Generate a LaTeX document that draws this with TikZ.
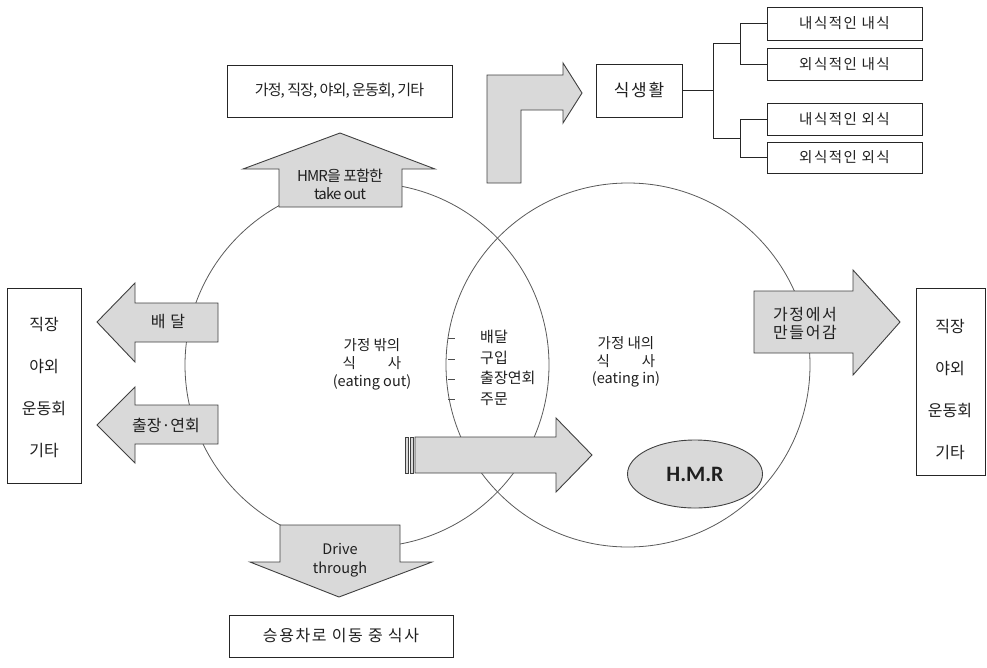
\documentclass[tikz,border=0pt]{standalone}
\usepackage{fontspec}
\setmainfont{Noto Sans CJK KR}
\newfontfamily\krsp[LetterSpace=10]{Noto Sans CJK KR}
\newfontfamily\krw[LetterSpace=30]{Noto Sans CJK KR}
\newfontfamily\krc[LetterSpace=-6]{Noto Sans CJK KR}
\newfontfamily\krn{Noto Sans CJK KR}
\newfontfamily\carlitofam{Carlito}
\usetikzlibrary{shapes.geometric}
\definecolor{blkfill}{HTML}{D9D9D9}
\definecolor{blkline}{HTML}{404040}
\definecolor{txtc}{HTML}{1F1F1F}
\tikzset{
  blk/.style={draw=blkline, fill=blkfill, line width=0.9pt, line join=miter},
  bx/.style={draw=black!85, line width=0.8pt, fill=white, inner sep=0pt},
  circ/.style={draw=black!65, line width=0.8pt, circle, inner sep=0pt, minimum size=364pt},
  ln/.style={draw=black!85, line width=0.8pt},
  txt/.style={font=\krn\fontsize{14}{18}\selectfont, text=txtc, align=center, inner sep=0pt},
}
\begin{document}
\begin{tikzpicture}[x=1pt,y=-1pt]
\useasboundingbox (0,0) rectangle (987,667);
% circles
\node[circ] (lc) at (367,365) {};
\node[circ] (rc) at (628,365) {};
% lens ticks and text
\foreach \yy in {338,359,379,399} { \draw[draw=black!70, line width=0.7pt] (448,\yy) -- (455,\yy); }
\node[txt, anchor=west, align=left, font=\krn\fontsize{15}{20.5}\selectfont] (lens) at (480,368) {배달\\구입\\출장연회\\주문};
% circle texts
\node[txt, font=\krn\fontsize{14.5}{18}\selectfont] (outT) at (372,364) {가정 밖의\\식\hspace{2.2em}사\\(eating out)};
\node[txt, font=\krn\fontsize{14.5}{17.5}\selectfont] (inT) at (626,362) {가정 내의\\식\hspace{2.2em}사\\(eating in)};
% HMR ellipse
\node[ellipse, draw=blkline, fill=blkfill, line width=0.9pt, minimum width=135pt, minimum height=68pt,
      font=\carlitofam\bfseries\fontsize{22}{24}\selectfont, text=txtc] (hmr) at (695,474) {H.M.R};
% take-out up arrow
\draw[blk] (279,207) -- (279,169) -- (243,169) -- (340,133) -- (435,169) -- (402,169) -- (402,207) -- cycle;
\node[txt, font=\krc\fontsize{15}{18}\selectfont] (tko) at (340,184) {HMR을 포함한\\take out};
% drive-through down arrow
\draw[blk] (280,525) -- (400,525) -- (400,562) -- (432,562) -- (339,597) -- (250,562) -- (280,562) -- cycle;
\node[txt, font=\krn\fontsize{14.5}{19}\selectfont] (drv) at (340,560) {Drive\\through};
% left arrows
\draw[blk] (218,303) -- (135,303) -- (135,283) -- (97,322) -- (135,362) -- (135,342) -- (218,342) -- cycle;
\node[txt, font=\krw\fontsize{16}{18}\selectfont] (bd) at (168,322) {배달};
\draw[blk] (218,405) -- (135,405) -- (135,387) -- (97,425) -- (135,463) -- (135,444) -- (218,444) -- cycle;
\node[txt, font=\krn\fontsize{16}{18}\selectfont] (cj) at (166,425) {출장·연회};
% right arrow
\draw[blk] (754,291) -- (853,291) -- (853,270) -- (900,322) -- (853,375) -- (853,353) -- (754,353) -- cycle;
\node[txt, font=\krsp\fontsize{16}{20}\selectfont] (gm) at (805,324) {가정에서\\[-2pt]만들어감};
% middle striped arrow
\draw[blk, line width=0.7pt] (405,437) rectangle (408,473);
\draw[blk, line width=0.7pt] (410,437) rectangle (413,473);
\draw[blk] (415,437) -- (556,437) -- (556,418) -- (592,455) -- (556,492) -- (556,473) -- (415,473) -- cycle;
% L arrow
\draw[blk] (487,183) -- (487,75) -- (563,75) -- (563,63) -- (582,93) -- (563,123) -- (563,110) -- (521,110) -- (521,183) -- cycle;
% boxes
\node[bx, minimum width=225pt, minimum height=52pt, txt, font=\krc\fontsize{15}{18}\selectfont] (topb) at (339.5,91) {가정, 직장, 야외, 운동회, 기타};
\node[bx, minimum width=224pt, minimum height=42pt, txt, font=\krsp\fontsize{16}{18}\selectfont] (botb) at (341,636) {승용차로 이동 중 식사};
\node[bx, minimum width=74pt, minimum height=195pt] (lb) at (44,385.5) {};
\node[bx, minimum width=69pt, minimum height=187pt] (rb) at (950.5,381.5) {};
\foreach \t [count=\i] in {직장,야외,운동회,기타} {
  \node[txt, font=\krn\fontsize{16}{18}\selectfont] (lt\i) at (44,{325+41.7*(\i-1)}) {\t};
  \node[txt, font=\krn\fontsize{16}{18}\selectfont] (rt\i) at (950,{327+41.7*(\i-1)}) {\t};
}
\node[bx, minimum width=86pt, minimum height=53pt, txt, font=\krsp\fontsize{17}{18}\selectfont] (sik) at (639,90.5) {식생활};
\node[bx, minimum width=155pt, minimum height=33pt, txt, font=\krsp\fontsize{14.5}{18}\selectfont] (r1) at (844.5,23.5) {내식적인 내식};
\node[bx, minimum width=155pt, minimum height=32pt, txt, font=\krsp\fontsize{14.5}{18}\selectfont] (r2) at (844.5,64) {외식적인 내식};
\node[bx, minimum width=155pt, minimum height=32pt, txt, font=\krsp\fontsize{14.5}{18}\selectfont] (r3) at (844.5,119) {내식적인 외식};
\node[bx, minimum width=155pt, minimum height=31pt, txt, font=\krsp\fontsize{14.5}{18}\selectfont] (r4) at (844.5,157.5) {외식적인 외식};
% tree connectors
\coordinate (ja) at (713,43);
\coordinate (jb) at (713,138);
\coordinate (ka) at (740,43);
\coordinate (kb) at (740,138);
\draw[ln] (sik.east) -- (sik.east -| ja);
\draw[ln] (ka) -- (ja) -- (jb) -- (kb);
\draw[ln] (r1.west) -| (ka) |- (r2.west);
\draw[ln] (r3.west) -| (kb) |- (r4.west);
\end{tikzpicture}
\end{document}
